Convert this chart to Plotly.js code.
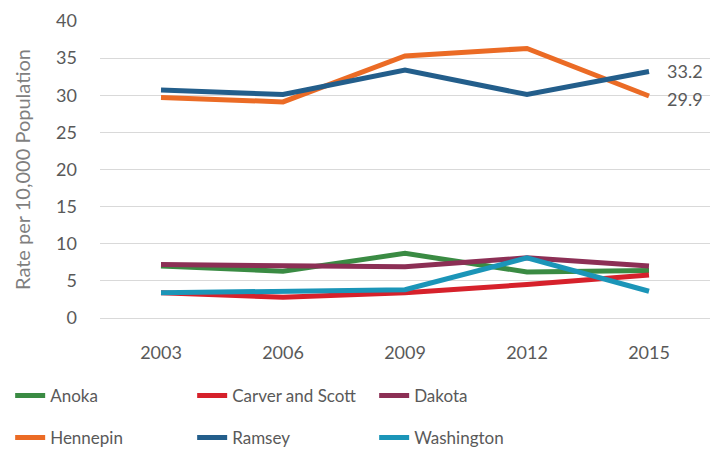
<!DOCTYPE html>
<html>
<head>
<meta charset="utf-8">
<script src="https://cdn.plot.ly/plotly-3.0.1.min.js"></script>
<style>
  html, body { margin: 0; padding: 0; background: #fff; }
  #chart { width: 726px; height: 450px; }
</style>
</head>
<body>
<div id="chart"></div>
<script>
// Survey years (category axis)
const years = ['2003', '2006', '2009', '2012', '2015'];

// Rate per 10,000 population by county
const anoka       = [7.0, 6.3, 8.7, 6.2, 6.4];
const carverScott = [3.4, 2.8, 3.4, 4.5, 5.8];
const dakota      = [7.2, 7.0, 6.9, 8.1, 7.0];
const hennepin    = [29.7, 29.1, 35.3, 36.3, 29.9];
const ramsey      = [30.7, 30.1, 33.4, 30.1, 33.2];
const washington  = [3.4, 3.6, 3.8, 8.1, 3.6];

const yTicks = [0, 5, 10, 15, 20, 25, 30, 35, 40];

const FONT = 'Lato, "Liberation Sans", sans-serif';
const TEXT_GRAY = '#595959';

function series(name, values, color, legendId) {
  return {
    type: 'scatter',
    mode: 'lines',
    name: name,
    x: years,
    y: values,
    line: { color: color, width: 5 },
    legend: legendId,
    hoverinfo: 'skip'
  };
}

const data = [
  series('Anoka', anoka, '#3A8B43', 'legend'),
  series('Carver and Scott', carverScott, '#D6212B', 'legend'),
  series('Dakota', dakota, '#8C2F55', 'legend'),
  series('Hennepin', hennepin, '#EB6B25', 'legend2'),
  series('Ramsey', ramsey, '#235E8B', 'legend2'),
  series('Washington', washington, '#1B95B8', 'legend2')
];

// Final-year value labels for the two large counties
// (category axes position annotations by category index)
function endLabel(values, yshift) {
  const last = values.length - 1;
  return {
    x: last,
    y: values[last],
    xref: 'x',
    yref: 'y',
    text: values[last].toFixed(1),
    showarrow: false,
    xanchor: 'left',
    yanchor: 'middle',
    xshift: 16,
    yshift: yshift,
    font: { family: FONT, size: 18, color: TEXT_GRAY }
  };
}

const legendBase = {
  orientation: 'h',
  xref: 'container',
  yref: 'container',
  xanchor: 'left',
  yanchor: 'middle',
  x: 0.014,
  entrywidth: 137,
  entrywidthmode: 'pixels',
  itemwidth: 30,
  font: { family: FONT, size: 17, color: TEXT_GRAY },
  bgcolor: 'rgba(0,0,0,0)',
  traceorder: 'normal'
};

const layout = {
  width: 726,
  height: 450,
  paper_bgcolor: '#ffffff',
  plot_bgcolor: '#ffffff',
  margin: { l: 100, r: 16, t: 21, b: 132 },
  font: { family: FONT, size: 17, color: TEXT_GRAY },
  showlegend: true,
  xaxis: {
    type: 'category',
    range: [-0.5, years.length - 0.5],
    showgrid: false,
    zeroline: false,
    showline: false,
    ticks: '',
    ticklabelstandoff: 22,
    tickfont: { family: FONT, size: 18, color: TEXT_GRAY },
    fixedrange: true
  },
  yaxis: {
    range: [0, 40],
    tickvals: yTicks,
    ticktext: yTicks.map(String),
    showgrid: true,
    gridcolor: '#D9D9D9',
    gridwidth: 1,
    zeroline: true,
    zerolinecolor: '#D9D9D9',
    zerolinewidth: 1,
    showline: false,
    ticks: '',
    ticklabelstandoff: 22,
    tickfont: { family: FONT, size: 18, color: TEXT_GRAY },
    title: {
      text: 'Rate per 10,000 Population',
      font: { family: FONT, size: 20, color: '#7F7F7F' },
      standoff: 20
    },
    fixedrange: true
  },
  annotations: [endLabel(ramsey, 0), endLabel(hennepin, -3)],
  legend: Object.assign({}, legendBase, { y: 1 - 396 / 450 }),
  legend2: Object.assign({}, legendBase, { y: 1 - 438 / 450 })
};

Plotly.newPlot('chart', data, layout, { displayModeBar: false, staticPlot: true });
</script>
</body>
</html>
